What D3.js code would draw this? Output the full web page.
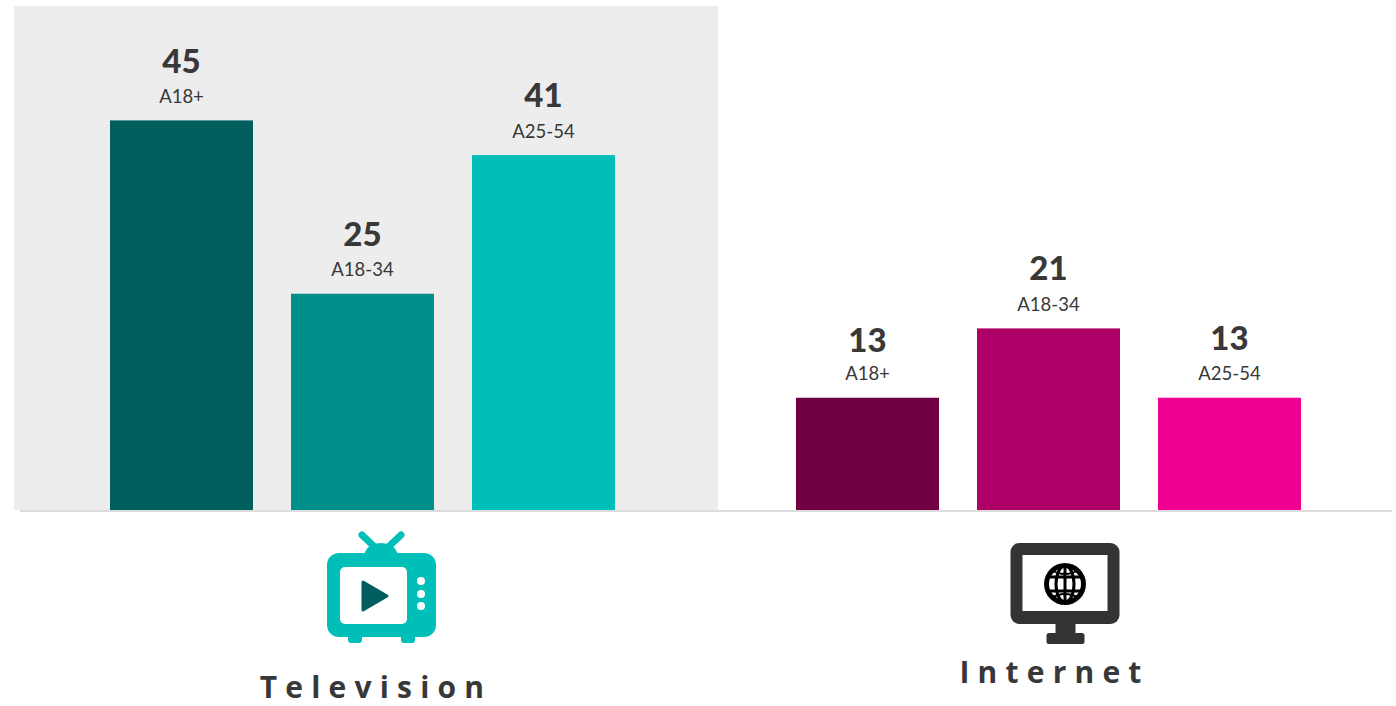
<!DOCTYPE html>
<html><head><meta charset="utf-8">
<script src="https://cdn.jsdelivr.net/npm/d3@7/dist/d3.min.js"></script>
<style>html,body{margin:0;padding:0;background:#fff;overflow:hidden}svg{display:block}</style>
</head><body><svg id="c" width="1396" height="706"></svg>
<script>
const categories = ["A18+", "A18-34", "A25-54"];
const televisionValues = [45, 25, 41];
const internetValues = [13, 21, 13];
const televisionColors = ["#005f5c", "#008e8a", "#00bfb8"];
const internetColors = ["#6f0041", "#ae0066", "#f00090"];
const groupNames = ["Television", "Internet"];
const televisionNudge = [0, 0, -1];
const internetNudge = [2, -1, 0];

const svg = d3.select("#c");
const y = d3.scaleLinear().domain([0, 45]).range([510.4, 120.4]);
const x1 = d3.scaleBand().domain(categories).range([91, 634]).paddingInner(0.21).paddingOuter(0.105);
const x2 = d3.scaleBand().domain(categories).range([777, 1320]).paddingInner(0.21).paddingOuter(0.105);
const NUM = "Lato, 'Open Sans', sans-serif";
const TXT = "#383838";

svg.append("rect").attr("x", 14).attr("y", 6).attr("width", 704).attr("height", 504).attr("fill", "#ededed");

function group(x, values, colors, nudge) {
  const g = svg.append("g").selectAll("g").data(values).join("g");
  g.append("rect")
    .attr("x", (d, i) => x(categories[i]))
    .attr("y", d => y(d))
    .attr("width", x.bandwidth())
    .attr("height", d => y(0) - y(d))
    .attr("fill", (d, i) => colors[i]);
  g.append("text")
    .attr("x", (d, i) => x(categories[i]) + x.bandwidth() / 2)
    .attr("y", (d, i) => y(d) - 47.4 + nudge[i])
    .attr("text-anchor", "middle")
    .attr("font-family", NUM).attr("font-weight", 900).attr("font-size", 33)
    .attr("fill", TXT).text(d => d);
  g.append("text")
    .attr("x", (d, i) => x(categories[i]) + x.bandwidth() / 2)
    .attr("y", d => y(d) - 17.4)
    .attr("text-anchor", "middle")
    .attr("font-family", NUM).attr("font-size", 18.5)
    .attr("fill", TXT).text((d, i) => categories[i]);
}
group(x1, televisionValues, televisionColors, televisionNudge);
group(x2, internetValues, internetColors, internetNudge);
svg.append("rect").attr("x", 20).attr("y", 510).attr("width", 1372).attr("height", 2).attr("fill", "#dcdcdc");

// Television icon
const tv = svg.append("g").attr("fill", "#00bfb8");
tv.append("path").attr("d", "M362 535 L380 552 M401 535 L383 552").attr("stroke", "#00bfb8").attr("stroke-width", 7).attr("stroke-linecap", "round").attr("fill", "none");
tv.append("path").attr("d", "M364 554 Q368 543 381 543 Q394 543 398 554 Z");
tv.append("rect").attr("x", 327).attr("y", 553).attr("width", 109).attr("height", 84).attr("rx", 12);
tv.append("rect").attr("x", 348).attr("y", 630).attr("width", 14).attr("height", 13).attr("rx", 3);
tv.append("rect").attr("x", 401).attr("y", 630).attr("width", 14).attr("height", 13).attr("rx", 3);
tv.append("rect").attr("x", 340).attr("y", 567).attr("width", 67).attr("height", 57).attr("rx", 5).attr("fill", "#fff");
[581, 594, 606].forEach(cy => tv.append("circle").attr("cx", 421).attr("cy", cy).attr("r", 4).attr("fill", "#fff"));
svg.append("path").attr("d", "M363 582 L387 596 L363 610 Z").attr("fill", "#005f5c").attr("stroke", "#005f5c").attr("stroke-width", 3).attr("stroke-linejoin", "round");

// Internet icon
const net = svg.append("g");
net.append("rect").attr("x", 1010.5).attr("y", 543).attr("width", 109).attr("height", 81).attr("rx", 9).attr("fill", "#333");
net.append("rect").attr("x", 1022.5).attr("y", 555).attr("width", 85).attr("height", 56).attr("fill", "#fff");
net.append("rect").attr("x", 1055.5).attr("y", 622).attr("width", 20).attr("height", 14).attr("fill", "#333");
net.append("rect").attr("x", 1046.5).attr("y", 633).attr("width", 38).attr("height", 11).attr("rx", 2.5).attr("fill", "#333");
const gx = 1065, gy = 584;
net.append("circle").attr("cx", gx).attr("cy", gy).attr("r", 21).attr("fill", "#000");
net.append("circle").attr("cx", gx).attr("cy", gy).attr("r", 16).attr("fill", "#fff");
const glob = net.append("g").attr("fill", "none").attr("stroke", "#000").attr("stroke-width", 3);
glob.append("ellipse").attr("cx", gx).attr("cy", gy).attr("rx", 9).attr("ry", 18);
glob.append("path").attr("d", `M${gx} ${gy-19} V${gy+19} M${gx-17} ${gy-7} H${gx+17} M${gx-17} ${gy+7} H${gx+17}`);
glob.append("path").attr("d", `M${gx-14} ${gy-14} Q${gx} ${gy-6} ${gx+14} ${gy-14} M${gx-14} ${gy+14} Q${gx} ${gy+6} ${gx+14} ${gy+14}`).attr("stroke-width", 2);

// Group titles
svg.append("g").selectAll("text").data(groupNames).join("text")
  .attr("x", (d, i) => [376, 1054.5][i])
  .attr("y", (d, i) => [698, 683][i])
  .attr("text-anchor", "middle")
  .attr("font-family", "'Open Sans', sans-serif").attr("font-weight", 700)
  .attr("font-size", 30).attr("letter-spacing", 8.2)
  .attr("fill", TXT).text(d => d);
</script></body></html>
